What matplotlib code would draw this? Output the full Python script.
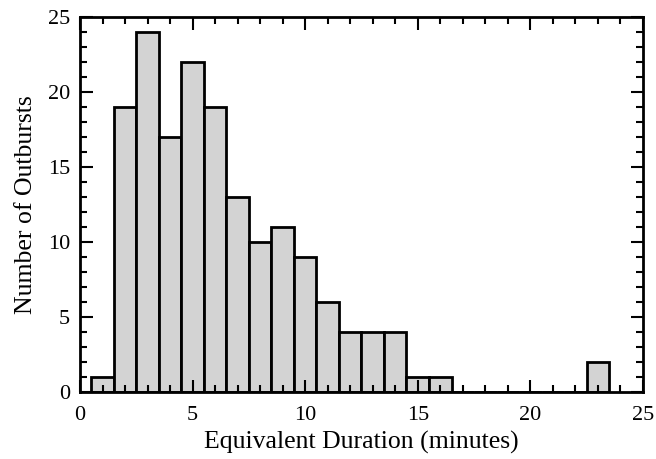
import matplotlib
import matplotlib.pyplot as plt
import numpy as np
from matplotlib.ticker import MultipleLocator

matplotlib.use("Agg")

# histogram: bin centres (minutes) and counts
bin_centers = [1, 2, 3, 4, 5, 6, 7, 8, 9, 10, 11, 12, 13, 14, 15, 16, 23]
counts = [1, 19, 24, 17, 22, 19, 13, 10, 11, 9, 6, 4, 4, 4, 1, 1, 2]
bin_edges = np.arange(0.5, 24.5, 1.0)

plt.rcParams["font.family"] = ["Liberation Serif", "DejaVu Serif"]

fig, ax = plt.subplots(figsize=(6.56, 4.59), dpi=100)
fig.subplots_adjust(left=0.122, right=0.98, top=0.962, bottom=0.145)

ax.hist(bin_centers, bins=bin_edges, weights=counts, color="#d3d3d3",
        edgecolor="black", linewidth=2, zorder=1)

ax.set_xlim(0, 25)
ax.set_ylim(0, 25)
ax.xaxis.set_major_locator(MultipleLocator(5))
ax.xaxis.set_minor_locator(MultipleLocator(1))
ax.yaxis.set_major_locator(MultipleLocator(5))
ax.yaxis.set_minor_locator(MultipleLocator(1))
ax.tick_params(which="both", direction="in", top=True, right=True,
               width=1.5, labelsize=16)
ax.tick_params(which="major", length=9)
ax.tick_params(which="minor", length=5)
ax.tick_params(axis="x", which="both", pad=10)
ax.tick_params(axis="y", which="both", pad=7)
ax.set_axisbelow(False)
for s in ax.spines.values():
    s.set_linewidth(2)
    s.set_zorder(6)

ax.set_xlabel("Equivalent Duration (minutes)", fontsize=18.5, labelpad=4)
ax.set_ylabel("Number of Outbursts", fontsize=18.5, labelpad=8)

fig.savefig("out.png", dpi=100)
plt.close(fig)
